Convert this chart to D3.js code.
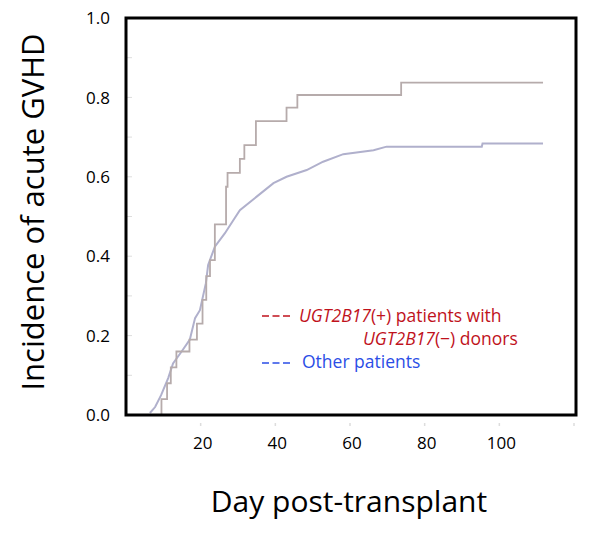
<!DOCTYPE html>
<html><head><meta charset="utf-8">
<script src="https://cdn.jsdelivr.net/npm/d3@7"></script>
<style>body{margin:0;background:#fff}svg{display:block}text{font-family:"Open Sans","Noto Sans",sans-serif}</style>
</head><body><svg id="c" width="601" height="533"></svg>
<script>
// Data (day, cumulative incidence)
const redDays   = [0, 9.5, 11, 12, 13.5, 17, 19, 20.5, 21.5, 22.5, 23.8, 26.8, 27.2, 30.5, 31.7, 34.8, 43.0, 45.9, 73.7, 111.7];
const redValues = [0, 0.04, 0.08, 0.12, 0.16, 0.19, 0.23, 0.29, 0.35, 0.39, 0.48, 0.575, 0.61, 0.645, 0.68, 0.74, 0.774, 0.806, 0.837, 0.837];
const blueDays   = [6.4, 7.8, 9.4, 11.3, 12.6, 14.9, 17.1, 18.5, 19.8, 21.4, 22.0, 23.8, 26.5, 28.7, 30.5, 35.0, 39.5, 43.0, 48.4, 52.8, 58.2, 66.3, 69.8, 95.3, 95.5, 111.7];
const blueValues = [0.005, 0.02, 0.05, 0.093, 0.13, 0.16, 0.19, 0.244, 0.264, 0.332, 0.378, 0.424, 0.458, 0.49, 0.516, 0.55, 0.584, 0.60, 0.617, 0.638, 0.657, 0.667, 0.676, 0.676, 0.684, 0.684];
const xTicks = [20, 40, 60, 80, 100];
const yTicks = [0, 0.2, 0.4, 0.6, 0.8, 1.0];
const yMinor = [0.1, 0.3, 0.5, 0.7, 0.9];
const legendRed = ["UGT2B17", "(+) patients with", "UGT2B17", "(\u2212) donors"];
const legendBlue = "Other patients";

const svg = d3.select("#c");
const x = d3.scaleLinear().domain([0, 120]).range([126, 574]);
const y = d3.scaleLinear().domain([0, 1]).range([415, 18]);

// faint ticks inside left
svg.append("g").selectAll("line").data(yTicks.concat(yMinor)).join("line")
  .attr("x1", 127).attr("x2", 132).attr("y1", d => y(d)).attr("y2", d => y(d))
  .attr("stroke", "#ddd").attr("stroke-width", 1);
// faint ticks below x axis
svg.append("g").selectAll("line").data([20,40,60,80,100,120]).join("line")
  .attr("x1", d => x(d)).attr("x2", d => x(d)).attr("y1", 423).attr("y2", 426)
  .attr("stroke", "#ddd").attr("stroke-width", 1.5);

const redData = redDays.map((d, i) => [d, redValues[i]]);
const blueData = blueDays.map((d, i) => [d, blueValues[i]]);
const stepLine = d3.line().x(d => x(d[0])).y(d => y(d[1])).curve(d3.curveStepAfter);
const smoothLine = d3.line().x(d => x(d[0])).y(d => y(d[1])).curve(d3.curveLinear);

svg.append("path").datum(blueData).attr("d", smoothLine)
  .attr("fill", "none").attr("stroke", "#b0b0cc").attr("stroke-width", 2);
svg.append("path").datum(redData).attr("d", stepLine)
  .attr("fill", "none").attr("stroke", "#b6abab").attr("stroke-width", 1.8);

// frame
svg.append("rect").attr("x", 126).attr("y", 18).attr("width", 450).attr("height", 397)
  .attr("fill", "none").attr("stroke", "#000").attr("stroke-width", 3);

// y tick labels
svg.append("g").selectAll("text").data(yTicks).join("text")
  .attr("x", 110).attr("y", d => y(d)).attr("dy", "0.36em")
  .attr("text-anchor", "end").attr("font-size", 17).attr("fill", "#000")
  .text(d => d3.format(".1f")(d));
// x tick labels
svg.append("g").selectAll("text").data(xTicks).join("text")
  .attr("x", d => x(d) + 2).attr("y", 449)
  .attr("text-anchor", "middle").attr("font-size", 17).attr("fill", "#000")
  .text(d => d);

// axis titles
svg.append("text").attr("transform", "translate(44,212) rotate(-90)")
  .attr("text-anchor", "middle").attr("font-size", 31).attr("fill", "#000")
  .text("Incidence of acute GVHD");
svg.append("text").attr("x", 349).attr("y", 512)
  .attr("text-anchor", "middle").attr("font-size", 30).attr("fill", "#000")
  .text("Day post-transplant");

// legend
const red = "#c0121c", blue = "#2b4ee6";
svg.append("line").attr("x1", 262).attr("x2", 290).attr("y1", 316).attr("y2", 316)
  .attr("stroke", red).attr("stroke-width", 1.4).attr("stroke-dasharray", "7,3.5");
svg.append("line").attr("x1", 262).attr("x2", 290).attr("y1", 363).attr("y2", 363)
  .attr("stroke", blue).attr("stroke-width", 1.4).attr("stroke-dasharray", "7,3.5");
const t1 = svg.append("text").attr("x", 299).attr("y", 322).attr("font-size", 17.5).attr("fill", red);
t1.append("tspan").attr("font-style", "italic").text(legendRed[0]);
t1.append("tspan").text(legendRed[1]);
const t2 = svg.append("text").attr("x", 363).attr("y", 345).attr("font-size", 17.5).attr("fill", red);
t2.append("tspan").attr("font-style", "italic").text(legendRed[2]);
t2.append("tspan").text(legendRed[3]);
svg.append("text").attr("x", 302).attr("y", 368).attr("font-size", 17.5).attr("fill", blue).text(legendBlue);
</script></body></html>
